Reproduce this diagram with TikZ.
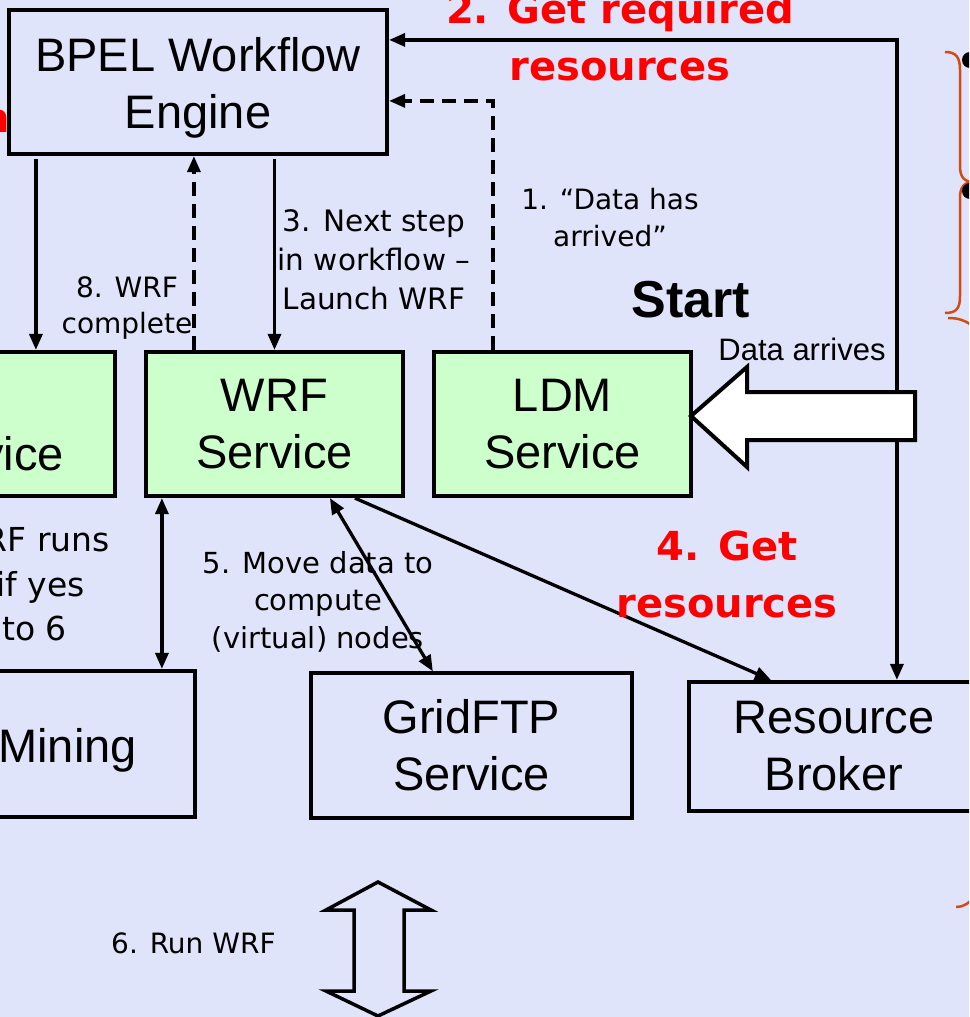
\documentclass[tikz,border=0pt]{standalone}
\usepackage{fontspec}
\setmainfont{Liberation Sans}
\newfontfamily\comic{DejaVu Sans}
\usetikzlibrary{arrows.meta,calc}
\definecolor{bg}{RGB}{224,228,250}
\definecolor{svcgreen}{RGB}{204,255,204}
\definecolor{braceorange}{RGB}{210,75,20}
\tikzset{
  procbox/.style={draw=black, line width=4.2pt, inner sep=0pt, align=center,
    font=\fontsize{47}{57}\selectfont},
  svcbox/.style={procbox, fill=svcgreen},
  boxtext/.style={inner sep=0pt, font=\fontsize{47}{57}\selectfont},
  arr/.style={line width=3.3pt, -{Triangle[length=16pt,width=13pt]}},
  dblarr/.style={line width=3.3pt, {Triangle[length=16pt,width=13pt]}-{Triangle[length=16pt,width=13pt]}},
  darr/.style={arr, dash pattern=on 14pt off 8pt},
  lbl/.style={font=\comic\fontsize{29}{37.5}\selectfont, align=center, inner sep=0pt},
  redlbl/.style={font=\comic\bfseries\fontsize{40}{57}\selectfont, text=red, align=center, inner sep=0pt},
  orbrace/.style={draw=braceorange, line width=2.5pt},
  blockarrow/.style={draw=black, line width=4pt, line join=miter}
}
\begin{document}
\begin{tikzpicture}[x=1pt,y=-1pt]
\useasboundingbox (0,0) rectangle (969,1017);
\clip (0,0) rectangle (969,1017);
\fill[bg] (0,0) rectangle (969,1017);

% boxes
\node[procbox, minimum width=378pt, minimum height=144pt] (bpel) at (198,82) {\rule{0pt}{46pt}BPEL Workflow\\Engine};
\node[svcbox, minimum width=230pt, minimum height=144pt] (leftsvc) at (0,424) {};
\node[boxtext, anchor=base east] (leftsvctxt) at (64,470) {Service};
\node[svcbox, minimum width=257pt, minimum height=144pt] (wrf) at (274.5,424) {WRF\\Service};
\node[svcbox, minimum width=257pt, minimum height=144pt] (ldm) at (562.5,424) {LDM\\Service};
\node[procbox, minimum width=260pt, minimum height=146pt] (mining) at (65,744) {};
\node[boxtext, anchor=base east] (miningtxt) at (137,762) {Mining};
\node[procbox, line width=3.3pt, minimum width=321pt, minimum height=145pt] (gridftp) at (471.5,745.5) {GridFTP\\Service};
\node[procbox, minimum width=290pt, minimum height=129pt] (broker) at (834,746.5) {Resource\\Broker};

% connectors
\coordinate (a1) at ([xshift=29pt]bpel.south west);
\draw[arr] ([yshift=-3pt]a1) -- (a1 |- leftsvc.north);
\coordinate (a2) at ([xshift=50pt]wrf.north west);
\draw[darr] (a2) -- (a2 |- bpel.south);
\draw[arr] ([yshift=-3pt]bpel.south -| wrf.north) -- (wrf.north);
\coordinate (d1) at ([xshift=61pt]ldm.north west);
\coordinate (d2) at ([yshift=-93pt]bpel.north east);
\draw[darr] (d1) |- (d2);
\coordinate (s1) at ([yshift=-32pt]bpel.north east);
\coordinate (s2) at ([xshift=210pt]broker.north west);
\draw[dblarr] (s1) -| (s2);
\coordinate (m1) at ([xshift=18pt]wrf.south west);
\draw[dblarr] (m1) -- (m1 |- mining.north);
\draw[dblarr] ([xshift=186pt]wrf.south west) -- ([xshift=123.5pt]gridftp.north west);
\draw[arr] ([xshift=211pt]wrf.south west) -- ([xshift=84pt]broker.north west);

% block arrows
\draw[blockarrow, fill=white] (691,416) -- (747,367) -- (747,392) -- (915,392) -- (915,440) -- (747,440) -- (747,467) -- cycle;
\draw[blockarrow, line width=3.5pt] (378,882) -- (431,910) -- (404,910) -- (404,991) -- (431,991) -- (378,1016) -- (326,991) -- (354,991) -- (354,910) -- (326,910) -- cycle;

% labels
\node[lbl, font=\comic\fontsize{28}{36}\selectfont] (l8) at (127,308) {8. WRF\\complete};
\node[lbl, font=\comic\fontsize{29.5}{39}\selectfont] (l3) at (374,260) {3. Next step\\in workflow –\\Launch WRF};
\node[lbl, font=\comic\fontsize{28}{37}\selectfont] (l1) at (610,218) {1. “Data has\\arrived”};
\node[lbl] (l5) at (318,601.5) {5. Move data to\\compute\\(virtual) nodes};
\node[lbl, font=\comic\fontsize{28}{36}\selectfont, anchor=base west] (l6) at (111,953) {6. Run WRF};
\node[lbl, font=\comic\fontsize{33}{44}\selectfont, anchor=base east] (l7a) at (110,551) {WRF runs};
\node[lbl, font=\comic\fontsize{33}{44}\selectfont, anchor=base east] (l7b) at (85,596) {if yes};
\node[lbl, font=\comic\fontsize{33}{44}\selectfont, anchor=base east] (l7c) at (67,640) {go to 6};
\node[inner sep=0pt, font=\bfseries\fontsize{52}{60}\selectfont, anchor=base] (start) at (691,317) {Start};
\node[inner sep=0pt, font=\fontsize{31}{36}\selectfont, anchor=base] (arrives) at (802,360) {Data arrives};
\node[redlbl] (r2) at (620,37) {2. Get required\\resources};
\node[redlbl] (r4) at (727,574) {4. Get\\resources};
\node[redlbl, anchor=base east] (rn) at (10,132) {n};

% right edge fragments
\draw[orbrace] (945,52) .. controls (956,52) and (960,57) .. (960,70) -- (960,166) .. controls (960,177) and (964,182) .. (974,182) .. controls (964,182) and (960,187) .. (960,198) -- (960,296) .. controls (960,309) and (956,313) .. (945,313);
\draw[orbrace] (948,318) .. controls (958,318) and (965,320) .. (974,327);
\draw[orbrace] (956,907) .. controls (963,907) and (968,904) .. (974,897);
\fill[black] (970,60) circle (8);
\fill[black] (970,191) circle (8);
\end{tikzpicture}
\end{document}
